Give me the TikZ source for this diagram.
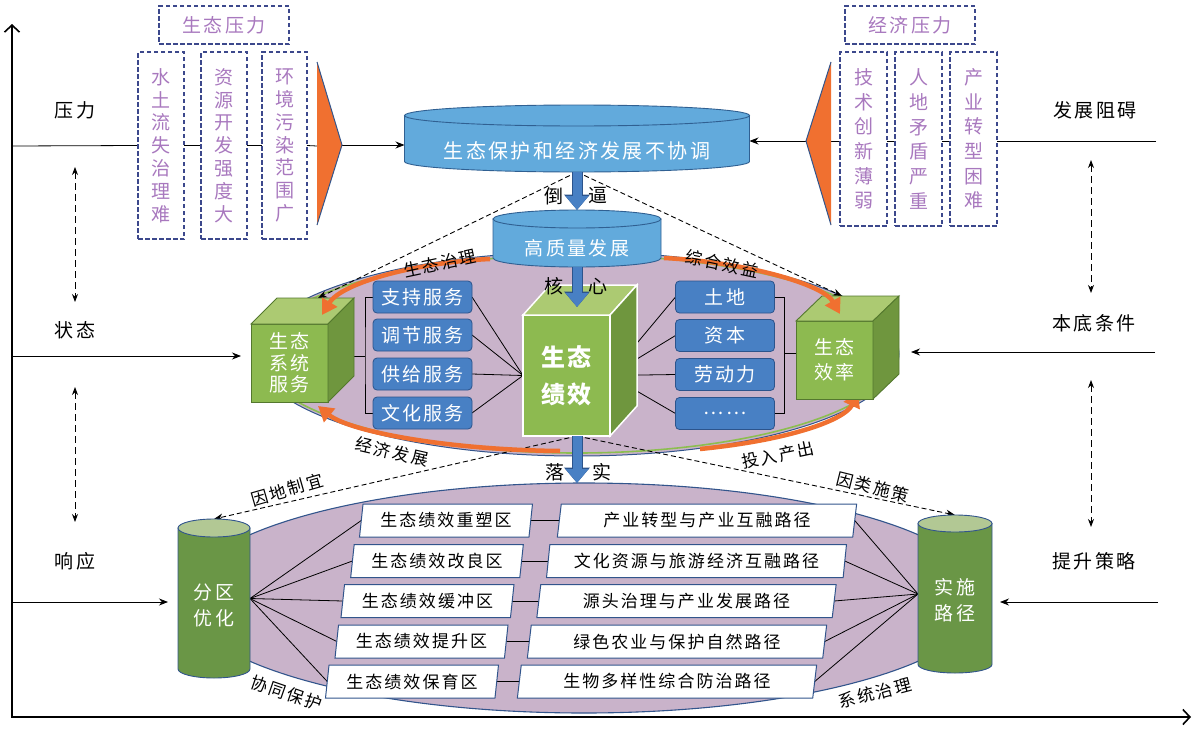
\documentclass[tikz,border=0pt]{standalone}
\usepackage{fontspec}
\setmainfont{Noto Sans CJK SC}[LetterSpace=12]
\usetikzlibrary{arrows.meta,shapes.geometric,calc}
\pgfdeclarelayer{bg}
\pgfdeclarelayer{mid}
\pgfsetlayers{bg,mid,main}
\definecolor{purp}{RGB}{201,179,202}
\definecolor{orng}{RGB}{240,112,48}
\definecolor{gfront}{RGB}{141,186,80}
\definecolor{gtop}{RGB}{172,202,114}
\definecolor{gside}{RGB}{111,150,62}
\definecolor{gedge}{RGB}{84,120,46}
\definecolor{cylbody}{RGB}{106,150,70}
\definecolor{cyltop}{RGB}{178,200,148}
\definecolor{bbox}{RGB}{72,128,196}
\definecolor{bboxd}{RGB}{44,84,140}
\definecolor{tcyl}{RGB}{98,170,220}
\definecolor{tcyld}{RGB}{48,96,146}
\definecolor{dashblue}{RGB}{60,72,140}
\definecolor{lilac}{RGB}{168,120,190}
\definecolor{edgeblue}{RGB}{50,85,140}
\definecolor{ringgreen}{RGB}{140,190,80}
\newcommand{\mycyl}[8]{%
  \filldraw[fill=#6, draw=#8, line width=0.9pt] (#1-#4,#2) -- (#1-#4,#3) arc[start angle=180, end angle=0, x radius=#4, y radius=#5] -- (#1+#4,#2) -- cycle;
  \filldraw[fill=#7, draw=#8, line width=0.9pt] (#1,#2) ellipse[x radius=#4, y radius=#5];
}
\begin{document}
\begin{tikzpicture}[x=1pt,y=-1pt,
  every node/.style={inner sep=0pt, outer sep=0pt},
  txt/.style={font=\fontsize{19}{22}\selectfont},
  smalltxt/.style={font=\fontsize{17}{20}\selectfont},
  dbox/.style={draw=dashblue, line width=1.1pt, dash pattern=on 4.5pt off 2.5pt, text=lilac, align=center},
  bluebox/.style={draw=bboxd, fill=bbox, rounded corners=4pt, line width=0.8pt, minimum width=99pt, minimum height=32pt, text=white, font=\fontsize{19}{22}\selectfont},
  para/.style={trapezium, trapezium left angle=80, trapezium right angle=100, trapezium stretches=true, draw=edgeblue, fill=white, line width=1pt, minimum height=33pt, font=\fontsize{17}{20}\selectfont},
  cubefront/.style={fill=gfront, draw=gedge, line width=0.9pt, text=white, align=center},
  conn/.style={draw=black, line width=0.8pt},
  arr/.style={conn, -{Stealth[length=9pt,width=7pt]}},
  dashdbl/.style={line width=0.9pt, dash pattern=on 7pt off 4pt, {Stealth[length=8pt,width=6pt]}-{Stealth[length=8pt,width=6pt]}},
  dashcon/.style={line width=0.9pt, dash pattern=on 5pt off 3pt, -{Stealth[length=9pt,width=7pt]}},
  blockarrow/.style={line width=9pt, draw=bbox, -{Triangle[length=14pt,width=22pt]}, preaction={draw=bboxd, line width=11pt, -{Triangle[length=15.5pt,width=25pt]}}},
  orangearc/.style={draw=orng, line width=4.5pt, -{Triangle[length=15pt,width=17pt]}},
]
\useasboundingbox (0,0) rectangle (1199,728);

% ---------- background shapes ----------
\begin{pgfonlayer}{bg}
  \filldraw[fill=purp, draw=edgeblue, line width=1.1pt] (584,598) ellipse[x radius=400, y radius=115];
  \filldraw[fill=purp, draw=edgeblue, line width=1pt] (577,354) ellipse[x radius=322, y radius=102];
  \draw[ringgreen, line width=1.6pt] (577,354) ellipse[x radius=319, y radius=99];
  \draw[orangearc] (700,449) .. controls (790,440) and (845,420) .. (858,392);
\end{pgfonlayer}

% ---------- axes ----------
\coordinate (O) at (12,717);
\coordinate (Ytop) at (12,24);
\coordinate (Xend) at (1191,717);
\draw[line width=1.6pt, {Straight Barb[length=7pt,width=15pt]}-{Straight Barb[length=7pt,width=15pt]}] (Ytop) -- (O) -- (Xend);

% ---------- side labels ----------
\node[txt] (yl) at (75,110) {压力};
\node[txt] (zt) at (75,330) {状态};
\node[txt] (xy) at (75,561) {响应};
\node[txt] (fz) at (1095,110) {发展阻碍};
\node[txt] (bd) at (1094,323) {本底条件};
\node[txt] (ts) at (1094,561) {提升策略};

% ---------- top pressure boxes ----------
\node[dbox, txt, minimum width=130pt, minimum height=38pt] (ltitle) at (224,25) {生态压力};
\node[dbox, minimum width=46pt, minimum height=187pt, font=\fontsize{19}{22.8}\selectfont] (lb1) at (161,145.5) {水\\土\\流\\失\\治\\理\\难};
\node[dbox, minimum width=46pt, minimum height=187pt, font=\fontsize{19}{22.8}\selectfont] (lb2) at (224,145.5) {资\\源\\开\\发\\强\\度\\大};
\node[dbox, minimum width=45pt, minimum height=187pt, font=\fontsize{19}{22.8}\selectfont] (lb3) at (284.5,145.5) {环\\境\\污\\染\\范\\围\\广};
\node[dbox, txt, minimum width=130pt, minimum height=38pt] (rtitle) at (910,25) {经济压力};
\node[dbox, minimum width=47pt, minimum height=174pt, font=\fontsize{19}{24.7}\selectfont] (rb1) at (863.5,139) {技\\术\\创\\新\\薄\\弱};
\node[dbox, minimum width=47pt, minimum height=174pt, font=\fontsize{19}{24.7}\selectfont] (rb2) at (918.5,139) {人\\地\\矛\\盾\\严\\重};
\node[dbox, minimum width=47pt, minimum height=174pt, font=\fontsize{19}{24.7}\selectfont] (rb3) at (973.5,139) {产\\业\\转\\型\\困\\难};

% orange triangles
\coordinate (ltb) at (317,146);
\coordinate (ltip) at (342,145);
\fill[orng] (317,62) -- (ltip) -- (317,225) -- cycle;
\draw[edgeblue, line width=1pt] (317,62) -- (ltip) -- (317,225);
\coordinate (rtb) at (831,141);
\coordinate (rtip) at (806,141);
\fill[orng] (831,62) -- (rtip) -- (831,225) -- cycle;
\draw[edgeblue, line width=1pt] (831,62) -- (rtip) -- (831,225);

% ---------- top cylinders ----------
\mycyl{577}{115.5}{161.5}{172.5}{10.5}{tcyl}{tcyl}{tcyld}
\node[minimum width=345pt, minimum height=67pt] (topcyl) at (577,138.5) {};
\node[txt, text=white, font=\fontsize{20}{22}\selectfont] (topcyl-t) at (577,151) {生态保护和经济发展不协调};
\mycyl{577}{219}{258}{84}{9}{tcyl}{tcyl}{tcyld}
\node[minimum width=168pt, minimum height=57pt] (hq) at (577,238.5) {};
\node[txt, text=white] (hq-t) at (577,248) {高质量发展};

% ---------- cubes ----------
\node[cubefront, minimum width=77pt, minimum height=78pt, font=\fontsize{19}{21.5}\selectfont] (lc) at (289.5,363) {生态\\系统\\服务};
\filldraw[fill=gtop, draw=gedge, line width=0.9pt] (lc.north west) -- ++(26,-26) -- ++(77,0) -- (lc.north east) -- cycle;
\filldraw[fill=gside, draw=gedge, line width=0.9pt] (lc.north east) -- ++(26,-26) -- ++(0,78) -- (lc.south east) -- cycle;

\node[cubefront, minimum width=77pt, minimum height=78pt, font=\fontsize{19}{25}\selectfont] (rc) at (834.5,360) {生态\\效率};
\filldraw[fill=gtop, draw=gedge, line width=0.9pt] (rc.north west) -- ++(26,-25) -- ++(77,0) -- (rc.north east) -- cycle;
\filldraw[fill=gside, draw=gedge, line width=0.9pt] (rc.north east) -- ++(26,-25) -- ++(0,78) -- (rc.south east) -- cycle;

\node[cubefront, draw=white, line width=1.5pt, minimum width=87pt, minimum height=121pt, font=\fontsize{24}{37}\selectfont\bfseries] (ce) at (566.5,375.5) {生态\\绩效};
\filldraw[fill=gtop, draw=white, line width=1.5pt] (ce.north west) -- ++(27,-30) -- ++(87,0) -- (ce.north east) -- cycle;
\filldraw[fill=gside, draw=white, line width=1.5pt] (ce.north east) -- ++(27,-30) -- ++(0,121) -- (ce.south east) -- cycle;

% orange circular arrows (over cubes)
\draw[orangearc] (490,259) .. controls (420,262) and (342,282) .. (322,315);
\draw[orangearc] (560,451) .. controls (450,450) and (350,432) .. (318,406);
\draw[orangearc] (664,258) .. controls (745,262) and (823,284) .. (840,314);

% ---------- blue boxes ----------
\node[bluebox] (s1) at (422.5,297) {支持服务};
\node[bluebox] (s2) at (422.5,335) {调节服务};
\node[bluebox] (s3) at (422.5,374) {供给服务};
\node[bluebox] (s4) at (422.5,413) {文化服务};
\node[bluebox] (t1) at (725,297) {土地};
\node[bluebox] (t2) at (725,335.5) {资本};
\node[bluebox] (t3) at (725,374.5) {劳动力};
\node[bluebox] (t4) at (725,413.5) {……};

% ---------- bottom cylinders ----------
\mycyl{214}{528}{669}{36}{9}{cylbody}{cyltop}{edgeblue}
\node[minimum width=72pt, minimum height=159pt] (fq) at (214,598.5) {};
\node[txt, text=white, align=center, font=\fontsize{19}{26}\selectfont] (fq-t) at (214,605) {分区\\优化};
\mycyl{955}{523.5}{664.5}{37}{8.5}{cylbody}{cyltop}{edgeblue}
\node[minimum width=74pt, minimum height=158pt] (ss) at (955,594) {};
\node[txt, text=white, align=center, font=\fontsize{19}{26}\selectfont] (ss-t) at (955,600) {实施\\路径};

% ---------- parallelograms ----------
\node[para, minimum width=173pt] (z1) at (446,520.5) {生态绩效重塑区};
\node[para, minimum width=173pt] (z2) at (437,561) {生态绩效改良区};
\node[para, minimum width=173pt] (z3) at (427.5,601) {生态绩效缓冲区};
\node[para, minimum width=173pt] (z4) at (421.5,641.5) {生态绩效提升区};
\node[para, minimum width=173pt] (z5) at (412,681.5) {生态绩效保育区};
\node[para, minimum width=300pt] (p1) at (707,520.5) {产业转型与产业互融路径};
\node[para, minimum width=300pt] (p2) at (696.5,561) {文化资源与旅游经济互融路径};
\node[para, minimum width=300pt] (p3) at (686.5,601) {源头治理与产业发展路径};
\node[para, minimum width=300pt] (p4) at (677,641.5) {绿色农业与保护自然路径};
\node[para, minimum width=300pt] (p5) at (667,681.5) {生物多样性综合防治路径};

% ---------- connector labels ----------
\node[txt] (l-dao) at (554,196) {倒};
\node[txt] (l-bi) at (598,196) {逼};
\node[txt] (l-he) at (554,286) {核};
\node[txt] (l-xin) at (598,286) {心};
\node[txt] (l-luo) at (555,472) {落};
\node[txt] (l-shi) at (602,472) {实};
\node[smalltxt, rotate=12] (l1) at (440,263) {生态治理};
\node[smalltxt, rotate=-12] (l2) at (722,264) {综合效益};
\node[smalltxt, rotate=-13] (l3) at (392,452) {经济发展};
\node[smalltxt, rotate=12] (l4) at (778,455) {投入产出};
\node[smalltxt, rotate=16] (l5) at (287,490) {因地制宜};
\node[smalltxt, rotate=-14] (l6) at (873,487) {因类施策};
\node[smalltxt, rotate=-19] (l7) at (287,693) {协同保护};
\node[smalltxt, rotate=15] (l8) at (875,693) {系统治理};

% ---------- named points ----------
\coordinate (aP) at (13,146);
\coordinate (aF) at (1156,141);
\coordinate (aS) at (13,356);
\coordinate (aB) at (1155,352);
\coordinate (rcside) at (899,352);
\coordinate (aR) at (13,602);
\coordinate (aT) at (1158,602);
\coordinate (lctop) at (318,298);
\coordinate (rctop) at (842,296);
\coordinate (cetop) at (577,307);
\coordinate (cebot) at (577,436);
\coordinate (belltop) at (577,483);
\coordinate (lcside) at (354,356);
\coordinate (bl) at (365,356);
\coordinate (br) at (784,353);
\coordinate (d1a) at (75,167);
\coordinate (d1b) at (75,302);
\coordinate (d2a) at (75,387);
\coordinate (d2b) at (75,522);
\coordinate (d3a) at (1091,160);
\coordinate (d3b) at (1091,293);
\coordinate (d4a) at (1091,380);
\coordinate (d4b) at (1091,527);

% ---------- connectors (under nodes) ----------
\begin{pgfonlayer}{mid}
  \draw[conn] (aP) -- (lb1.west);
  \draw[conn] (lb1.east) -- (lb2.west);
  \draw[conn] (lb2.east) -- (lb3.west);
  \draw[conn] (lb3.east) -- (ltb);
  \draw[arr] (ltip) -- (ltip -| topcyl.west);
  \draw[conn] (aF) -- (aF -| rb3.east);
  \draw[conn] (rtb -| rb3.west) -- (rtb -| rb2.east);
  \draw[conn] (rtb -| rb2.west) -- (rtb -| rb1.east);
  \draw[conn] (rtb -| rb1.west) -- (rtb);
  \draw[arr] (rtip) -- (rtip -| topcyl.east);
  \draw[arr, shorten >=10pt] (aS) -- (aS -| lc.west);
  \draw[arr, shorten >=12pt] (aB) -- (rcside);
  \draw[arr, shorten >=10pt] (aR) -- (aR -| fq.west);
  \draw[arr, shorten >=8pt] (aT) -- (aT -| ss.east);
  \draw[dashdbl] (d1a) -- (d1b);
  \draw[dashdbl] (d2a) -- (d2b);
  \draw[dashdbl] (d3a) -- (d3b);
  \draw[dashdbl] (d4a) -- (d4b);
  \draw[dashcon] (topcyl.south) -- (lctop);
  \draw[dashcon] (topcyl.south) -- (rctop);
  \draw[dashcon] (cebot) -- (fq.north);
  \draw[dashcon] (cebot) -- (ss.north);
  \foreach \n in {s1,s2,s3,s4} \draw[conn] (\n.east) -- (ce.west);
  \foreach \n in {t1,t2,t3,t4} \draw[conn] (ce.east) -- (\n.west);
  \draw[conn] (s1.west) -| (bl) |- (s4.west);
  \draw[conn] (lcside) -- (bl);
  \draw[conn] (t1.east) -| (br) |- (t4.east);
  \draw[conn] (br) -- (br -| rc.west);
  \foreach \i in {1,...,5} {
    \draw[conn] (fq.east) -- (z\i.left side);
    \draw[conn] (z\i.right side) -- (p\i.left side);
    \draw[conn] (ss.west) -- (p\i.right side);
  }
\end{pgfonlayer}

% ---------- block arrows ----------
\draw[blockarrow] (topcyl.south) -- (hq.north);
\draw[blockarrow] (hq.south) -- (cetop);
\draw[blockarrow] (cebot) -- (belltop);
\end{tikzpicture}
\end{document}
